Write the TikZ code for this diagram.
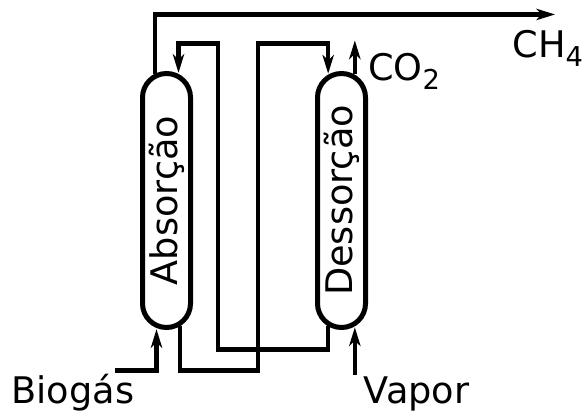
\documentclass[tikz,border=0pt]{standalone}
\usepackage{fontspec}
\setmainfont{DejaVu Sans}
\usetikzlibrary{arrows.meta,positioning}
\providecommand{\sub}[1]{\raisebox{-0.24em}{\fontsize{20.5pt}{24pt}\selectfont #1}}
\tikzstyle{column} = [draw, rectangle, line width=3.75pt, rounded corners=18pt, minimum width=36pt, minimum height=190.5pt, inner sep=0pt]
\tikzstyle{tag} = [anchor=base west, inner sep=0pt]

\begin{document}
\begin{tikzpicture}[auto, node distance=131.25pt, line width=3.1pt, >={Stealth[length=14pt,width=8.5pt,inset=4pt]}]
    \tikzset{font={\fontsize{27.5pt}{33pt}\selectfont}}
    \useasboundingbox (0,0) rectangle (436.5pt,309.75pt);
    \node [column] (abs) at (124.875pt,159.375pt) {};
    \node [column, right of=abs] (des) {};
    \node [rotate=90] (abstxt) at (abs) {Absorção};
    \node [rotate=90] (destxt) at (des) {Dessorção};
    % free ends and corners
    \coordinate (ch4end) at ([xshift=291.4pt,yshift=42.4pt]abs.north);
    \coordinate (co2out) at ([xshift=10pt,yshift=22.9pt]des.north);
    \coordinate (bioin) at ([xshift=-38.6pt,yshift=-30.4pt]abs.south);
    \coordinate (vapin) at ([xshift=10pt,yshift=-34.1pt]des.south);
    \coordinate (lean1) at ([xshift=38.6pt,yshift=-14.6pt]abs.south);
    \coordinate (lean2) at ([xshift=38.6pt,yshift=20.6pt]abs.north);
    \coordinate (rich1) at ([xshift=68.6pt,yshift=-30.4pt]abs.south);
    \coordinate (rich2) at ([xshift=68.6pt,yshift=20.6pt]abs.north);
    % streams
    \draw [->] ([xshift=-8.6pt,yshift=-2.2pt]abs.north) |- (ch4end);
    \draw [->] ([xshift=10pt,yshift=-2pt]des.north) -- (co2out);
    \draw [->] (bioin) -| ([xshift=-7.5pt,yshift=0.6pt]abs.south);
    \draw [->] (vapin) -| ([xshift=10pt,yshift=2pt]des.south);
    \draw [->] ([xshift=-10pt,yshift=3pt]des.south) |- (lean1) -- (lean2) -| ([xshift=9pt,yshift=-1.4pt]abs.north);
    \draw [->] ([xshift=10pt,yshift=3pt]abs.south) |- (rich1) -- (rich2) -| ([xshift=-10pt,yshift=-2pt]des.north);
    % labels
    \node [tag] (ch4) at ([xshift=-33.4pt,yshift=-32.3pt]ch4end) {CH\sub{4}};
    \node [tag] (co2) at ([xshift=8.4pt,yshift=-30pt]co2out) {CO\sub{2}};
    \node [tag] (bio) at (7.1pt,6.8pt) {Biogás};
    \node [tag] (vap) at (271.3pt,6.8pt) {Vapor};
\end{tikzpicture}
\end{document}
